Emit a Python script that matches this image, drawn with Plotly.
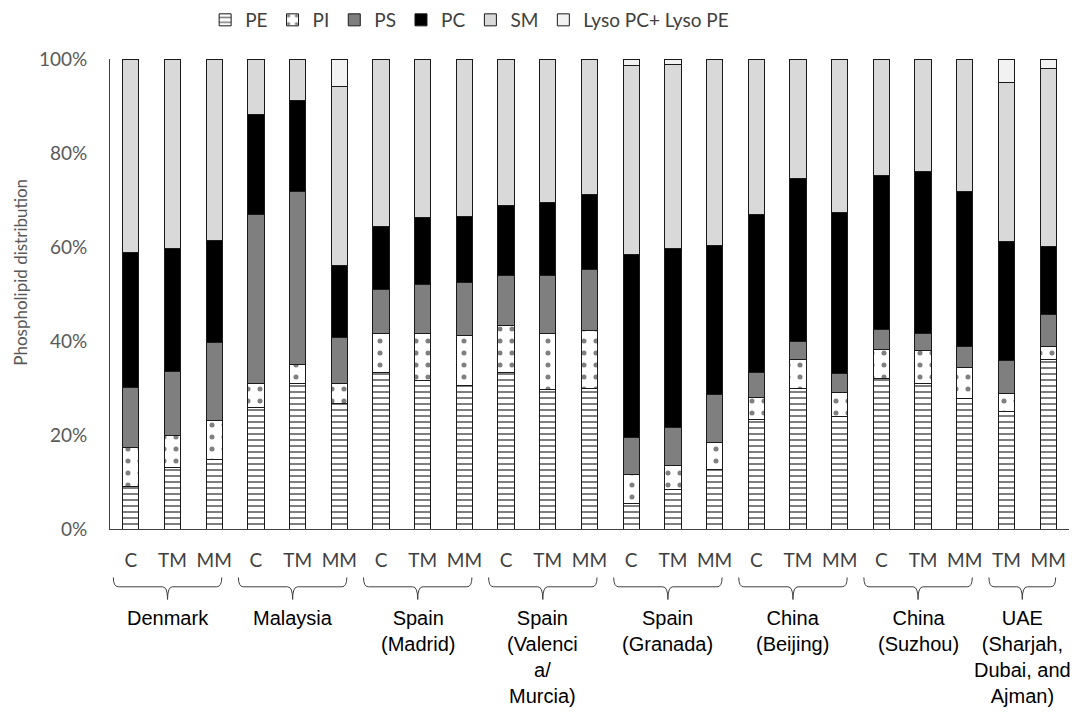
import plotly.graph_objects as go

# Data (percent of total phospholipids)
groups = ["Denmark", "Malaysia", "Spain<br>(Madrid)", "Spain<br>(Valenci<br>a/<br>Murcia)",
          "Spain<br>(Granada)", "China<br>(Beijing)", "China<br>(Suzhou)",
          "UAE<br>(Sharjah,<br>Dubai, and<br>Ajman)"]
group_samples = [["C", "TM", "MM"]] * 7 + [["TM", "MM"]]

pe = [9.1, 13.0, 14.8, 25.9, 31.0, 26.7, 33.3, 31.7, 30.5, 33.3, 29.6, 29.9,
      5.5, 8.3, 12.7, 23.2, 29.9, 23.9, 32.1, 31.0, 27.8, 25.0, 36.1]
pi = [8.3, 6.9, 8.2, 5.1, 3.9, 4.3, 8.2, 9.8, 10.6, 10.0, 11.9, 12.4,
      6.2, 5.3, 5.7, 4.7, 6.1, 5.2, 6.1, 6.9, 6.6, 3.9, 2.8]
ps = [12.7, 13.7, 16.7, 36.0, 37.0, 9.8, 9.4, 10.6, 11.3, 10.7, 12.4, 13.0,
      7.8, 8.0, 10.3, 5.4, 4.0, 3.9, 4.3, 3.6, 4.5, 6.9, 6.8]
pc = [28.8, 26.1, 21.6, 21.2, 19.3, 15.3, 13.4, 14.1, 14.1, 14.8, 15.5, 15.9,
      38.9, 38.0, 31.6, 33.7, 34.6, 34.4, 32.7, 34.5, 32.9, 25.3, 14.4]
sm = [41.1, 40.3, 38.7, 11.8, 8.8, 38.0, 35.7, 33.8, 33.5, 31.2, 30.6, 28.8,
      40.3, 39.3, 39.7, 33.0, 25.4, 32.6, 24.8, 24.0, 28.2, 33.9, 37.9]
lyso = [None, None, None, None, None, 5.9, None, None, None, None, None, None,
        1.3, 1.1, None, None, None, None, None, None, None, 5.0, 2.0]

y_ticks = [0, 20, 40, 60, 80, 100]
y_ticktext = ["0%", "20%", "40%", "60%", "80%", "100%"]

# flatten groups into bar positions
ticktext = []
group_pos = []
for g, s in zip(groups, group_samples):
    start = len(ticktext)
    ticktext += s
    group_pos.append((start, len(ticktext) - 1))
xs = list(range(len(ticktext)))

series = [
    ("PE", pe, dict(color="white", pattern=dict(shape="-", size=6, solidity=0.33,
                                                fgcolor="black", bgcolor="white"))),
    ("PI", pi, dict(color="white", pattern=dict(shape=".", size=12, solidity=0.14,
                                                fgcolor="black", bgcolor="white"))),
    ("PS", ps, dict(color="#7f7f7f")),
    ("PC", pc, dict(color="#000000")),
    ("SM", sm, dict(color="#d9d9d9")),
    ("Lyso PC+ Lyso PE", lyso, dict(color="#f2f2f2")),
]

fig = go.Figure()
for name, vals, mk in series:
    mk["line"] = dict(color="#1a1a1a", width=1)
    fig.add_trace(go.Bar(name=name, x=xs, y=vals, width=0.39, marker=mk))

# braces and group labels under the axis
y_top, y_mid, y_tip = -0.103, -0.123, -0.150
d = 0.12
for (a, b), label in zip(group_pos, groups):
    x0, x1 = a - 0.42, b + 0.18
    xm = (x0 + x1) / 2
    path = (f"M {x0},{y_top} Q {x0},{y_mid} {x0+d},{y_mid} L {xm-d},{y_mid} "
            f"Q {xm},{y_mid} {xm},{y_tip} Q {xm},{y_mid} {xm+d},{y_mid} "
            f"L {x1-d},{y_mid} Q {x1},{y_mid} {x1},{y_top}")
    fig.add_shape(type="path", path=path, xref="x", yref="paper",
                  line=dict(color="#404040", width=1))
    fig.add_annotation(x=xm, y=-0.162, xref="x", yref="paper", text=label,
                       showarrow=False, yanchor="top", align="center",
                       font=dict(family="Liberation Sans, Arial", size=20, color="black"))

fig.add_annotation(x=-0.093, y=0.547, xref="paper", yref="paper",
                   xanchor="center", yanchor="middle",
                   text="Phospholipid distribution", textangle=-90, showarrow=False,
                   font=dict(family="Lato", size=17, color="#595959"))

# page body has an 8px margin, so the figure is offset by 8px
fig.update_layout(
    barmode="stack",
    width=1076, height=707,
    margin=dict(l=102, r=15, t=51, b=186, autoexpand=False),
    plot_bgcolor="white", paper_bgcolor="white",
    font=dict(family="Lato", color="#595959"),
    legend=dict(orientation="h", x=0.375, xanchor="center", y=1.083, yanchor="middle",
                font=dict(size=19, color="#404040"), itemwidth=30, traceorder="normal"),
)
fig.update_xaxes(range=[-0.5, len(xs) - 0.5], tickvals=xs, ticktext=ticktext,
                 showline=True, linecolor="#404040", linewidth=1, showgrid=False,
                 ticks="", ticklabelstandoff=14,
                 tickfont=dict(family="Lato", size=19, color="#404040"))
fig.update_yaxes(range=[0, 100], tickvals=y_ticks, ticktext=y_ticktext,
                 showline=True, linecolor="#404040", linewidth=1, showgrid=False,
                 ticks="", ticklabelstandoff=18,
                 tickfont=dict(family="Lato", size=19, color="#595959"))

fig.write_html("out.html")
